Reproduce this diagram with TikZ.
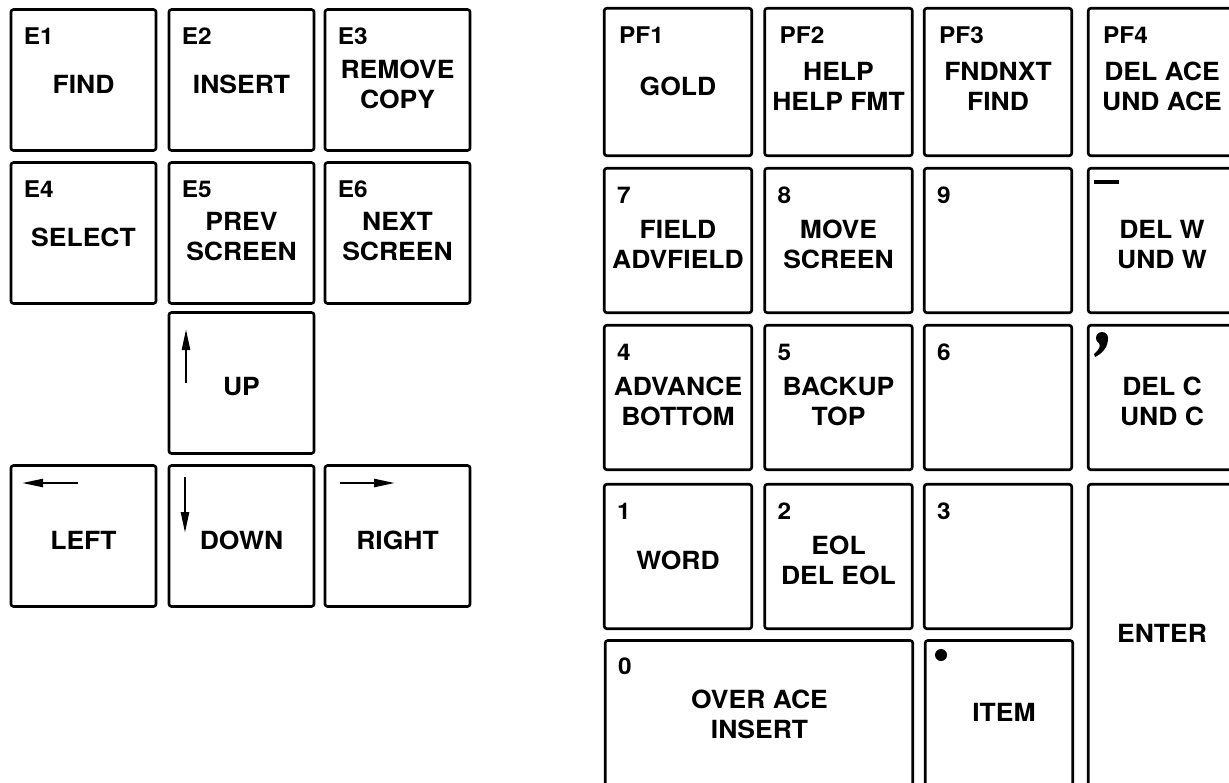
\documentclass[tikz,border=0pt]{standalone}
\usepackage{fontspec}
\setmainfont{TeX Gyre Heros}[FakeStretch=1.06]
\usetikzlibrary{arrows.meta,positioning,calc}

\begin{document}
\begin{tikzpicture}[
  x=1pt, y=-1pt,
  key/.style={draw, line width=2.6pt, rounded corners=2.5pt, inner sep=0pt, minimum width=145pt, minimum height=141pt},
  pkey/.style={key, minimum width=147.5pt, minimum height=144.5pt},
  keytext/.style={font=\fontsize{25}{30}\selectfont\bfseries, align=center, inner sep=0pt, yshift=-4pt},
  keylabel/.style={font=\fontsize{23}{27}\selectfont\bfseries, anchor=north west, inner sep=0pt},
  keyarrow/.style={line width=2.4pt, -{Triangle[length=21pt,width=8pt]}}
]
\useasboundingbox (0,0) rectangle (1229,782);
\fill[white] (0,0) rectangle (1229,782);
\clip (0,0) rectangle (1229,782);

% editing keypad
\node[key] (E1) at (83.5,80) {};
\node[key] (E2) at (241.5,80) {};
\node[key] (E3) at (397.5,80) {};
\node[key] (E4) at (83.5,233) {};
\node[key] (E5) at (241.5,233) {};
\node[key] (E6) at (397.5,233) {};
\node[key] (up) at (241.5,383) {};
\node[key] (left) at (83.5,536) {};
\node[key] (down) at (241.5,536) {};
\node[key] (right) at (397.5,536) {};

\node[keylabel] (E1-l) at ([shift={(14pt,-19pt)}]E1.north west) {E1};
\node[keylabel] (E2-l) at ([shift={(14pt,-19pt)}]E2.north west) {E2};
\node[keylabel] (E3-l) at ([shift={(14pt,-19pt)}]E3.north west) {E3};
\node[keylabel] (E4-l) at ([shift={(14pt,-19pt)}]E4.north west) {E4};
\node[keylabel] (E5-l) at ([shift={(14pt,-19pt)}]E5.north west) {E5};
\node[keylabel] (E6-l) at ([shift={(14pt,-19pt)}]E6.north west) {E6};

\node[keytext] (E1-t) at (E1.center) {FIND};
\node[keytext] (E2-t) at (E2.center) {INSERT};
\node[keytext] (E3-t) at (E3.center) {REMOVE\\COPY};
\node[keytext] (E4-t) at (E4.center) {SELECT};
\node[keytext] (E5-t) at (E5.center) {PREV\\SCREEN};
\node[keytext] (E6-t) at (E6.center) {NEXT\\SCREEN};
\node[keytext] (up-t) at (up.center) {UP};
\node[keytext] (left-t) at (left.center) {LEFT};
\node[keytext] (down-t) at (down.center) {DOWN};
\node[keytext] (right-t) at (right.center) {RIGHT};

\draw[keyarrow] (186,383) -- (186,329);
\draw[keyarrow] (185,477) -- (185,533);
\draw[keyarrow] (78,483) -- (22,483);
\draw[keyarrow] (340,483) -- (395,483);

% numeric keypad
\node[pkey, minimum height=147.5pt] (PF1) at (678,82) {};
\node[pkey, minimum height=147.5pt] (PF2) at (838.5,82) {};
\node[pkey, minimum height=147.5pt] (PF3) at (998,82) {};
\node[pkey, minimum height=147.5pt] (PF4) at (1162,82) {};
\node[pkey] (k7) at (678,240.5) {};
\node[pkey] (k8) at (838.5,240.5) {};
\node[pkey] (k9) at (998,240.5) {};
\node[pkey] (kminus) at (1162,240.5) {};
\node[pkey] (k4) at (678,397.5) {};
\node[pkey] (k5) at (838.5,397.5) {};
\node[pkey] (k6) at (998,397.5) {};
\node[pkey] (kcomma) at (1162,397.5) {};
\node[pkey] (k1) at (678,556.5) {};
\node[pkey] (k2) at (838.5,556.5) {};
\node[pkey] (k3) at (998,556.5) {};
\node[pkey, minimum height=304.5pt] (enter) at (1162,636.5) {};
\node[pkey, minimum width=307.5pt, minimum height=148pt] (k0) at (759,714.5) {};
\node[pkey, minimum height=148pt] (kdot) at (999,714.5) {};

\node[keylabel] (PF1-l) at ([shift={(16pt,-20pt)}]PF1.north west) {PF1};
\node[keylabel] (PF2-l) at ([shift={(16pt,-20pt)}]PF2.north west) {PF2};
\node[keylabel] (PF3-l) at ([shift={(16pt,-20pt)}]PF3.north west) {PF3};
\node[keylabel] (PF4-l) at ([shift={(16pt,-20pt)}]PF4.north west) {PF4};
\node[keylabel] (k7-l) at ([shift={(14pt,-20pt)}]k7.north west) {7};
\node[keylabel] (k8-l) at ([shift={(14pt,-20pt)}]k8.north west) {8};
\node[keylabel] (k9-l) at ([shift={(14pt,-20pt)}]k9.north west) {9};
\node[keylabel] (k4-l) at ([shift={(14pt,-20pt)}]k4.north west) {4};
\node[keylabel] (k5-l) at ([shift={(14pt,-20pt)}]k5.north west) {5};
\node[keylabel] (k6-l) at ([shift={(14pt,-20pt)}]k6.north west) {6};
\node[keylabel] (k1-l) at ([shift={(14pt,-20pt)}]k1.north west) {1};
\node[keylabel] (k2-l) at ([shift={(14pt,-20pt)}]k2.north west) {2};
\node[keylabel] (k3-l) at ([shift={(14pt,-20pt)}]k3.north west) {3};
\node[keylabel] (k0-l) at ([shift={(14pt,-18pt)}]k0.north west) {0};

\node[keytext] (PF1-t) at (PF1.center) {GOLD};
\node[keytext] (PF2-t) at (PF2.center) {HELP\\HELP FMT};
\node[keytext] (PF3-t) at (PF3.center) {FNDNXT\\FIND};
\node[keytext] (PF4-t) at (PF4.center) {DEL ACE\\UND ACE};
\node[keytext] (k7-t) at (k7.center) {FIELD\\ADVFIELD};
\node[keytext] (k8-t) at (k8.center) {MOVE\\SCREEN};
\node[keytext] (kminus-t) at (kminus.center) {DEL W\\UND W};
\node[keytext] (k4-t) at (k4.center) {ADVANCE\\BOTTOM};
\node[keytext] (k5-t) at (k5.center) {BACKUP\\TOP};
\node[keytext] (kcomma-t) at (kcomma.center) {DEL C\\UND C};
\node[keytext] (k1-t) at (k1.center) {WORD};
\node[keytext] (k2-t) at (k2.center) {EOL\\DEL EOL};
\node[keytext] (enter-t) at (1162,629.5) {ENTER};
\node[keytext] (k0-t) at (759.5,710.5) {OVER ACE\\INSERT};
\node[keytext] (kdot-t) at (1004,708) {ITEM};

% minus, comma and period marks
\draw[line width=4.5pt] (1094,182) -- (1119,182);
\fill (1102,338) circle (6);
\fill (1108,338) .. controls (1108,347) and (1103,353) .. (1095,357) -- (1094,354) .. controls (1099,350) and (1101,346) .. (1099,343) -- cycle;
\fill (941,655) circle (6);
\end{tikzpicture}
\end{document}
